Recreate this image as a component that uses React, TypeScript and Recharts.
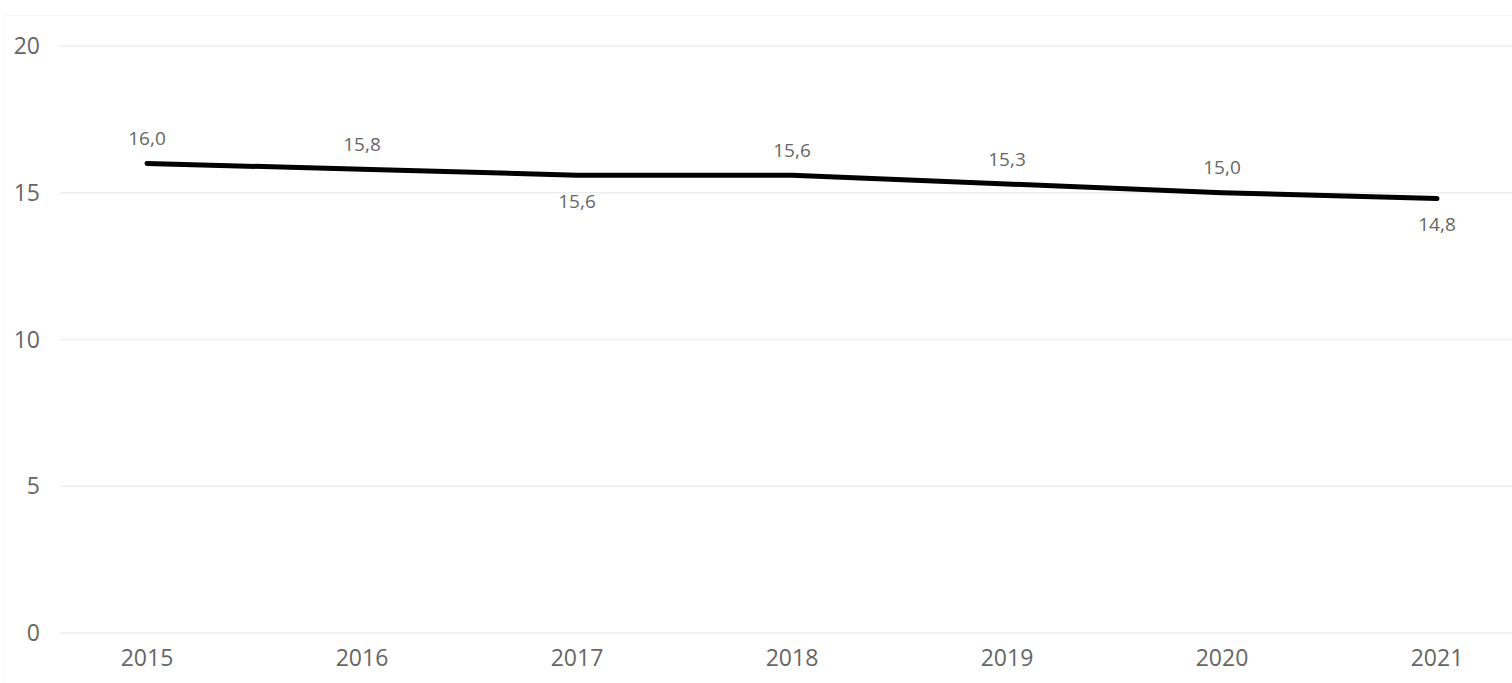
import { LineChart, Line, XAxis, YAxis, CartesianGrid, LabelList } from 'recharts';

const years = ['2015', '2016', '2017', '2018', '2019', '2020', '2021'];
const values = [16.0, 15.8, 15.6, 15.6, 15.3, 15.0, 14.8];
const yTicks = [0, 5, 10, 15, 20];

// labels Power BI pushed under the line
const labelBelowYears = ['2017', '2021'];

const data = years.map((year, i) => ({ year, value: values[i] }));

const fmt = (v: number) => v.toFixed(1).replace('.', ',');

function PointLabel(props: any) {
  const { x, y, value, index } = props;
  const below = labelBelowYears.includes(years[index]);
  return (
    <text
      x={x}
      y={below ? y + 26 : y - 25}
      dy="0.355em"
      textAnchor="middle"
      fill="#666"
      fontSize={19}
      fontFamily="'Open Sans', sans-serif"
    >
      {fmt(value)}
    </text>
  );
}

export default function App() {
  return (
    <div style={{ position: 'absolute', left: 0, top: 0, width: 1512, height: 683, background: '#fff' }}>
      <div
        style={{
          position: 'absolute',
          left: 3,
          top: 15,
          right: 0,
          bottom: 0,
          borderTop: '1px solid #faf8f6',
          borderLeft: '1px solid #faf8f6',
        }}
      />
      <LineChart
        width={1512}
        height={683}
        data={data}
        margin={{ top: 46, right: 0, bottom: 0, left: 0 }}
        style={{ position: 'absolute', left: 0, top: 0 }}
      >
        <CartesianGrid vertical={false} stroke="#eeeeee" strokeWidth={1.5} />
        <XAxis
          dataKey="year"
          axisLine={false}
          tickLine={false}
          tickSize={0}
          tickMargin={17}
          height={50}
          padding={{ left: 87, right: 75 }}
          tick={{ fill: '#666', fontSize: 23, fontFamily: "'Open Sans', sans-serif" }}
        />
        <YAxis
          domain={[0, 20]}
          ticks={yTicks}
          axisLine={false}
          tickLine={false}
          tickSize={0}
          tickMargin={20}
          width={60}
          tick={{ fill: '#666', fontSize: 23, fontFamily: "'Open Sans', sans-serif" }}
        />
        <Line
          type="linear"
          dataKey="value"
          stroke="#000"
          strokeWidth={5}
          strokeLinecap="round"
          dot={false}
          activeDot={false}
          isAnimationActive={false}
        >
          <LabelList dataKey="value" content={<PointLabel />} />
        </Line>
      </LineChart>
    </div>
  );
}
